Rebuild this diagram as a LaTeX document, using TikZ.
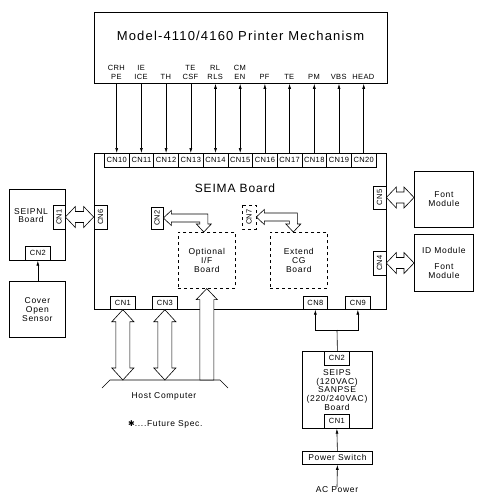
\documentclass[tikz,border=0pt]{standalone}
\usepackage{fontspec}
\setmainfont{Liberation Sans}[LetterSpace=8]
\newfontfamily\cnfont{Liberation Sans}[LetterSpace=5]
\newfontfamily\titlefont{Liberation Sans}[LetterSpace=9]
\newfontfamily\boardfont{Liberation Sans}[LetterSpace=7]
\newfontfamily\symfont{DejaVu Sans}
\usetikzlibrary{arrows.meta,calc}
\tikzset{
  blk/.style={draw, line width=0.8pt, inner sep=0pt, anchor=north west, align=center,
    font=\fontsize{8.5}{8.7}\selectfont},
  dblk/.style={blk, dashed, line width=0.6pt},
  cn/.style={draw, line width=0.7pt, fill=white, inner sep=0pt, anchor=north west,
    font=\cnfont\fontsize{7.5}{8}\selectfont},
  siglbl/.style={anchor=south, align=center, inner sep=0pt, font=\cnfont\fontsize{7.5}{9}\selectfont},
  txt/.style={inner sep=0pt, align=center, font=\fontsize{8.5}{8.7}\selectfont},
  hollow/.style={draw, fill=white, line width=0.6pt, line join=miter},
  sig/.style={-{Latex[length=5pt,width=3pt]}, line width=0.6pt},
  sigb/.style={{Latex[length=5pt,width=3pt]}-{Latex[length=5pt,width=3pt]}, line width=0.6pt},
}
% horizontal hollow double arrow, tips #1 (left) and #2 (right)
\newcommand\hdarrow[2]{\draw[hollow] let \p1=#1, \p2=#2 in
  (\x1,\y1) -- (\x1+10pt,\y1+10.5pt) -- (\x1+10pt,\y1+5.5pt) -- (\x2-10pt,\y1+5.5pt)
  -- (\x2-10pt,\y1+10.5pt) -- (\x2,\y1) -- (\x2-10pt,\y1-10.5pt) -- (\x2-10pt,\y1-5.5pt)
  -- (\x1+10pt,\y1-5.5pt) -- (\x1+10pt,\y1-10.5pt) -- cycle;}
% vertical hollow double arrow, tips #1 (top) and #2 (bottom)
\newcommand\vdarrow[2]{\draw[hollow] let \p1=#1, \p2=#2 in
  (\x1,\y1) -- (\x1+11pt,\y1-12pt) -- (\x1+7pt,\y1-12pt) -- (\x1+7pt,\y2+12pt)
  -- (\x1+11pt,\y2+12pt) -- (\x1,\y2) -- (\x1-11pt,\y2+12pt) -- (\x1-7pt,\y2+12pt)
  -- (\x1-7pt,\y1-12pt) -- (\x1-11pt,\y1-12pt) -- cycle;}
% vertical hollow single arrow, tip #1 (top), base #2
\newcommand\vuarrow[2]{\draw[hollow] let \p1=#1, \p2=#2 in
  (\x1,\y1) -- (\x1+10.5pt,\y1-11pt) -- (\x1+7pt,\y1-11pt) -- (\x1+7pt,\y2)
  -- (\x1-7pt,\y2) -- (\x1-7pt,\y1-11pt) -- (\x1-10.5pt,\y1-11pt) -- cycle;}
% bent hollow arrow: tip #1 pointing left, tip #2 pointing down
\newcommand\bentarrow[2]{\draw[hollow] let \p1=#1, \p2=#2 in
  (\x1,\y1) -- (\x1+8pt,\y1+7.5pt) -- (\x1+8pt,\y1+4pt) -- (\x2+4pt,\y1+4pt)
  -- (\x2+4pt,\y2+8pt) -- (\x2+7.5pt,\y2+8pt) -- (\x2,\y2) -- (\x2-7.5pt,\y2+8pt)
  -- (\x2-4pt,\y2+8pt) -- (\x2-4pt,\y1-4pt) -- (\x1+8pt,\y1-4pt) -- (\x1+8pt,\y1-7.5pt) -- cycle;}
\begin{document}
\begin{tikzpicture}[x=1pt,y=-1pt]
\useasboundingbox (0,0) rectangle (477,503);

% Printer mechanism
\node[blk, minimum width=293, minimum height=71] (pm) at (94,12) {};
\node[inner sep=0pt, font=\titlefont\fontsize{13}{14}\selectfont] (pmt) at (240.5,36) {Model-4110/4160 Printer Mechanism};

% SEIMA board
\node[blk, minimum width=292, minimum height=156] (seima) at (94,153) {};
\node[inner sep=0pt, font=\boardfont\fontsize{12}{13}\selectfont] (seimat) at (235,188) {SEIMA Board};

% CN10..CN20 and signal labels
\foreach \i/\lab [count=\k from 0] in {10/{CRH\\PE},11/{IE\\ICE},12/{TH},13/{TE\\CSF},14/{RL\\RLS},15/{CM\\EN},16/{PF},17/{TE},18/{PM},19/{VBS},20/{HEAD}} {
  \node[cn, minimum width=24.7, minimum height=14] (cn\i) at (104+24.7*\k,153) {CN\i};
  \node[siglbl] (s\i) at (116.35+24.7*\k,80) {\lab};
}
\foreach \i in {10,11,12,13} \draw[sig] (cn\i.north |- pm.south) -- (cn\i.north);
\foreach \i in {14,15} \draw[sigb] (cn\i.north |- pm.south) -- (cn\i.north);
\foreach \i in {16,17,18,19,20} \draw[sig] (cn\i.north) -- (cn\i.north |- pm.south);

% right side connectors and modules
\node[cn, rotate=90, minimum width=23, minimum height=13, anchor=center] (cn5) at (379.5,197.5) {CN5};
\node[cn, rotate=90, minimum width=24, minimum height=13, anchor=center] (cn4) at (379.5,263) {CN4};
\node[blk, minimum width=59, minimum height=56] (font) at (414,171) {Font\\Module};
\node[blk, minimum width=59, minimum height=57] (idm) at (414,234) {ID Module\\[7.5pt]Font\\Module};
\hdarrow{(cn5.south)}{(font.west)}
\hdarrow{(cn4.south)}{(idm.west)}

% left side
\node[cn, rotate=90, minimum width=24, minimum height=13, anchor=center] (cn6) at (100.5,217) {CN6};
\node[blk, minimum width=56, minimum height=71] (pnl) at (9,189) {};
\node[txt] (pnlt) at (31,215.5) {SEIPNL\\Board};
\node[cn, rotate=90, minimum width=24, minimum height=12, anchor=center] (pn1) at (59,217) {CN1};
\node[cn, minimum width=25, minimum height=14] (pn2) at (25,246) {CN2};
\hdarrow{(pn1.south)}{(cn6.north)}
\node[blk, minimum width=56, minimum height=56] (cos) at (9,281) {Cover\\Open\\Sensor};
\draw[sig] (cos.north -| pn2.south) -- (pn2.south);

% inner optional boards
\node[cn, rotate=90, minimum width=22, minimum height=12, anchor=center] (cn2i) at (157,218) {CN2};
\node[cn, dashed, line width=0.6pt, rotate=90, minimum width=24, minimum height=14, anchor=center] (cn7) at (249,217) {CN7};
\node[dblk, minimum width=57, minimum height=56] (opt) at (178,232) {Optional\\I/F\\Board};
\node[dblk, minimum width=57, minimum height=56] (ext) at (270,232) {Extend\\CG\\Board};
\bentarrow{(cn2i.south)}{([xshift=-3pt]opt.north)}
\bentarrow{(cn7.south)}{([xshift=-5.5pt]ext.north)}

% bottom connectors
\node[cn, minimum width=25, minimum height=13] (cn1) at (110,296) {CN1};
\node[cn, minimum width=25, minimum height=13] (cn3) at (152,296) {CN3};
\node[cn, minimum width=24, minimum height=13] (cn8) at (303,296) {CN8};
\node[cn, minimum width=25, minimum height=13] (cn9) at (345,296) {CN9};

% host computer
\coordinate (hl0) at (102,388);
\coordinate (hl1) at (110,380);
\coordinate (hr1) at (220,380);
\coordinate (hr0) at (228,388);
\draw[line width=0.6pt] (hl0) -- (hl1) -- (hr1) -- (hr0);
\vdarrow{(cn1.south)}{(cn1.south |- hl1)}
\vdarrow{(cn3.south)}{(cn3.south |- hl1)}
\vuarrow{(opt.south)}{(opt.south |- hl1)}
\node[txt] (host) at (164,396) {Host Computer};
\node[txt, anchor=west] (fut) at (128,424) {{\symfont\fontsize{8}{9}\selectfont ✱}....Future Spec.};

% power supply
\node[blk, minimum width=70, minimum height=77] (ps) at (302,351) {};
\node[cn, minimum width=25, minimum height=14] (ps2) at (324,351) {CN2};
\node[cn, minimum width=25, minimum height=14] (ps1) at (324,414) {CN1};
\node[txt] (pst) at (337,390) {SEIPS\\(120VAC)\\SANPSE\\(220/240VAC)\\Board};
\node[blk, minimum width=70, minimum height=13] (psw) at (302,451) {Power Switch};
\node[txt] (ac) at (337,490) {AC Power};
\coordinate (pj) at (337,330);
\draw[sig] (pj) -| (cn8.south);
\draw[sig] (pj) -| (cn9.south);
\draw[line width=0.6pt] (pj) -- (ps.north);
\draw[sig] (psw.north) -- (ps1.south);
\draw[sig] (ac.north) -- (psw.south);
\end{tikzpicture}
\end{document}
